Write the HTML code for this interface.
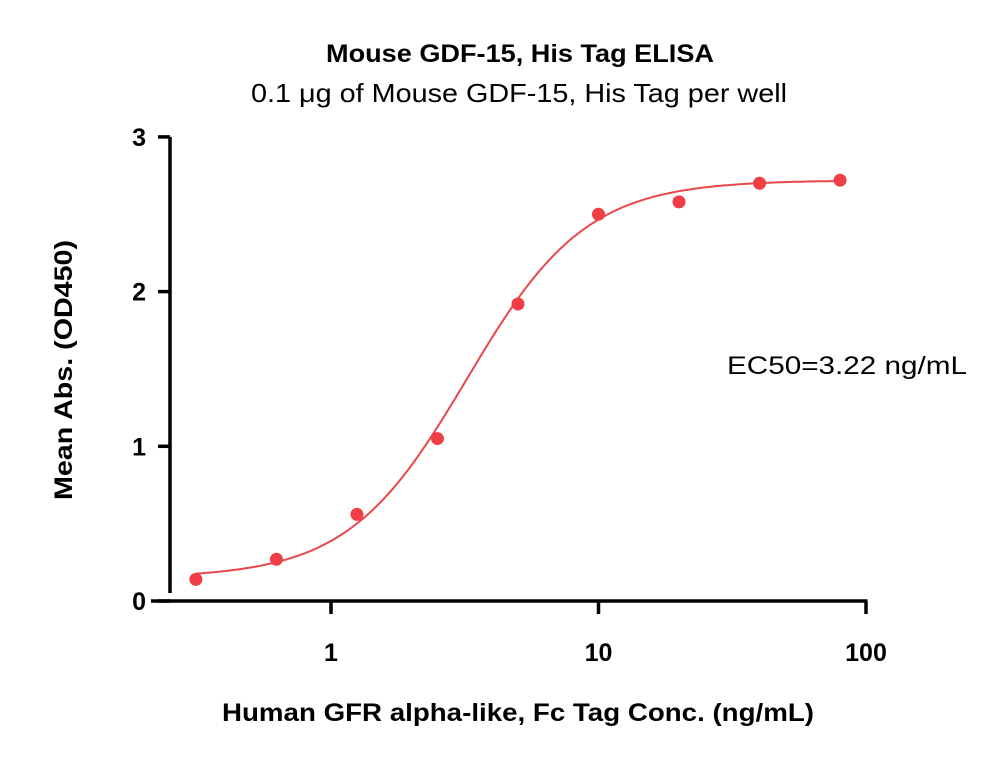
<!DOCTYPE html>
<html><head><meta charset="utf-8"><style>
body{margin:0;background:#fff}
svg text{font-family:"Liberation Sans",sans-serif}
</style></head><body>
<svg width="1000" height="759" viewBox="0 0 1000 759">
<text x="520" y="62" text-anchor="middle" font-size="25" font-weight="bold" textLength="388" lengthAdjust="spacingAndGlyphs">Mouse GDF-15, His Tag ELISA</text>
<text x="519" y="102" text-anchor="middle" font-size="26" textLength="536" lengthAdjust="spacingAndGlyphs">0.1 μg of Mouse GDF-15, His Tag per well</text>
<g id="axes"></g>
<g id="curve"></g>
<g id="pts"></g>
<text x="847" y="374" text-anchor="middle" font-size="25" textLength="240" lengthAdjust="spacingAndGlyphs">EC50=3.22 ng/mL</text>
<text x="518" y="721" text-anchor="middle" font-size="25" font-weight="bold" textLength="592" lengthAdjust="spacingAndGlyphs">Human GFR alpha-like, Fc Tag Conc. (ng/mL)</text>
<text transform="translate(72,370) rotate(-90)" text-anchor="middle" font-size="25" font-weight="bold" textLength="260" lengthAdjust="spacingAndGlyphs">Mean Abs. (OD450)</text>
</svg>
<script>
const conc=[0.3125,0.625,1.25,2.5,5,10,20,40,80];
const od=[0.14,0.27,0.56,1.05,1.92,2.50,2.58,2.70,2.72];
const xTicks=[1,10,100];
const xTickLabels=["1","10","100"];
const yTicks=[0,1,2,3];
const fitBottom=0.15, fitTop=2.72, fitEC50=3.22, fitHill=1.95;
const NS="http://www.w3.org/2000/svg";
const X=v=>331+267.5*Math.log10(v);
const Y=v=>601-154.7*v;
function mk(t,a,p){const e=document.createElementNS(NS,t);for(const k in a)e.setAttribute(k,a[k]);p.appendChild(e);return e;}
const ax=document.getElementById('axes');
let l=mk('line',{x1:170,y1:Y(3),x2:170,y2:593,stroke:'#000','stroke-width':3.5},ax);


l=mk('line',{x1:151,y1:601,x2:X(100)+1.5,y2:601,stroke:'#000','stroke-width':3.5},ax);


yTicks.forEach(v=>{
 const t=mk('line',{x1:158,y1:Y(v),x2:170,y2:Y(v),stroke:'#000','stroke-width':3.5},ax);
 
 
 const tx=mk('text',{x:146,y:Y(v)+9,'text-anchor':'end','font-size':25,'font-weight':'bold'},ax);
 tx.textContent=v;
 
 
});
xTicks.forEach((v,i)=>{
 const t=mk('line',{x1:X(v),y1:601,x2:X(v),y2:614,stroke:'#000','stroke-width':3.5},ax);
 
 
 const tx=mk('text',{x:X(v),y:661,'text-anchor':'middle','font-size':25,'font-weight':'bold'},ax);
 tx.textContent=xTickLabels[i];
 
 
});
let d='';
for(let i=0;i<=200;i++){
 const lx=Math.log10(0.3125)+i/200*(Math.log10(80)-Math.log10(0.3125));
 const c=Math.pow(10,lx);
 const y=fitBottom+(fitTop-fitBottom)/(1+Math.pow(fitEC50/c,fitHill));
 d+=(i?'L':'M')+X(c).toFixed(1)+','+Y(y).toFixed(1);
}
const p=mk('path',{d:d,fill:'none',stroke:'#e8474c','stroke-width':2},document.getElementById('curve'));


conc.forEach((c,i)=>{
 const ci=mk('circle',{cx:X(c),cy:Y(od[i]),r:6.5,fill:'#ef3e45'},document.getElementById('pts'));
 
 
});
</script>
</body></html>
